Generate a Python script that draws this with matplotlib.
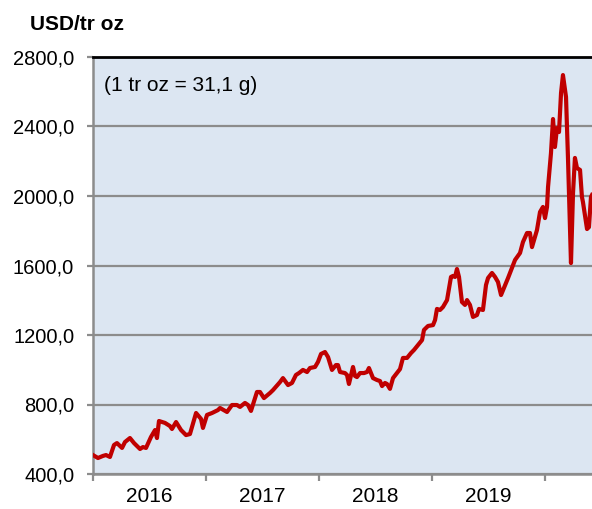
import numpy as np
import matplotlib.pyplot as plt
from matplotlib.ticker import FixedLocator, FuncFormatter

plt.rcParams['font.family'] = ['Liberation Sans', 'DejaVu Sans']

# decimal year / price (USD per troy ounce)
years = [2016.000, 2016.044, 2016.088, 2016.115, 2016.150, 2016.186, 2016.212, 2016.257,
         2016.283, 2016.327, 2016.363, 2016.416, 2016.442, 2016.469, 2016.513, 2016.549,
         2016.566, 2016.584, 2016.637, 2016.681, 2016.699, 2016.735, 2016.779, 2016.823,
         2016.858, 2016.912, 2016.956, 2016.973, 2017.009, 2017.053, 2017.106, 2017.124,
         2017.186, 2017.230, 2017.274, 2017.301, 2017.345, 2017.372, 2017.398, 2017.451,
         2017.478, 2017.513, 2017.566, 2017.593, 2017.655, 2017.681, 2017.726, 2017.761,
         2017.796, 2017.823, 2017.858, 2017.894, 2017.920, 2017.965, 2017.991, 2018.018,
         2018.053, 2018.080, 2018.115, 2018.150, 2018.168, 2018.186, 2018.230, 2018.248,
         2018.265, 2018.301, 2018.319, 2018.336, 2018.363, 2018.398, 2018.425, 2018.442,
         2018.478, 2018.513, 2018.540, 2018.558, 2018.584, 2018.602, 2018.628, 2018.655,
         2018.690, 2018.717, 2018.743, 2018.779, 2018.814, 2018.841, 2018.876, 2018.912,
         2018.929, 2018.965, 2019.009, 2019.027, 2019.044, 2019.071, 2019.097, 2019.133,
         2019.168, 2019.186, 2019.204, 2019.221, 2019.239, 2019.265, 2019.292, 2019.310,
         2019.336, 2019.363, 2019.398, 2019.416, 2019.451, 2019.478, 2019.496, 2019.531,
         2019.558, 2019.584, 2019.611, 2019.673, 2019.735, 2019.779, 2019.805, 2019.841,
         2019.867, 2019.885, 2019.929, 2019.956, 2019.982, 2020.000, 2020.018, 2020.027,
         2020.053, 2020.071, 2020.088, 2020.106, 2020.124, 2020.142, 2020.159, 2020.186,
         2020.204, 2020.230, 2020.248, 2020.265, 2020.283, 2020.310, 2020.327, 2020.336,
         2020.372, 2020.389, 2020.407, 2020.416]
price = [509, 492, 504, 509, 498, 567, 578, 550,
         584, 607, 578, 544, 555, 550, 613, 653,
         607, 705, 694, 676, 659, 699, 653, 624,
         630, 751, 717, 665, 740, 751, 768, 780,
         757, 797, 797, 786, 809, 797, 763, 872,
         872, 837, 866, 883, 929, 952, 912, 924,
         970, 981, 999, 987, 1010, 1016, 1045, 1091,
         1102, 1073, 999, 1027, 1027, 987, 981, 970,
         918, 1016, 964, 958, 981, 981, 987, 1010,
         952, 941, 935, 906, 924, 918, 890, 952,
         981, 1004, 1068, 1068, 1096, 1114, 1142, 1171,
         1229, 1252, 1257, 1286, 1350, 1344, 1361, 1401,
         1534, 1540, 1534, 1580, 1534, 1390, 1373, 1401,
         1373, 1304, 1315, 1350, 1344, 1488, 1528, 1557,
         1534, 1505, 1430, 1528, 1632, 1672, 1735, 1787,
         1787, 1706, 1804, 1908, 1937, 1873, 1937, 2052,
         2247, 2443, 2282, 2391, 2368, 2593, 2696, 2570,
         2207, 1614, 2017, 2219, 2161, 2150, 1994, 1965,
         1810, 1821, 1994, 2006]

year_labels = ['2016', '2017', '2018', '2019']
y_ticks = [400, 800, 1200, 1600, 2000, 2400, 2800]

fig = plt.figure(figsize=(5.92, 5.09), dpi=100)
ax = fig.add_axes([93/592, 1 - 474/509, 1 - 93/592, 417/509])
ax.set_facecolor('#DCE6F2')

ax.plot(years, price, color='#C00000', lw=3, solid_joinstyle='round', zorder=3)

ax.set_xlim(2016, 2020.416)
ax.set_ylim(400, 2800)
ax.set_yticks(y_ticks)
ax.yaxis.set_major_formatter(FuncFormatter(lambda v, p: f'{v:.1f}'.replace('.', ',')))
ax.grid(axis='y', color='#8C8C8C', lw=1.6, zorder=1)

ax.xaxis.set_major_locator(FixedLocator([2016, 2017, 2018, 2019, 2020]))
ax.xaxis.set_minor_locator(FixedLocator([2016.5, 2017.5, 2018.5, 2019.5]))
ax.set_xticklabels([])
ax.set_xticklabels(year_labels, minor=True)
ax.tick_params(axis='x', which='major', length=5, width=1.6, color='#8C8C8C')
ax.tick_params(axis='x', which='minor', length=0, pad=9, labelsize=15)
ax.tick_params(axis='y', length=4.5, width=1.6, color='#8C8C8C', pad=9, labelsize=14.5)

for s in ['left', 'bottom']:
    ax.spines[s].set_color('#8C8C8C')
    ax.spines[s].set_linewidth(1.8)
ax.spines['top'].set_color('black')
ax.spines['top'].set_linewidth(2)
ax.spines['right'].set_visible(False)

ax.text(0.022, 0.955, '(1 tr oz = 31,1 g)', transform=ax.transAxes,
        fontsize=15, va='top', ha='left')
fig.text(30/592, 1 - 24/509, 'USD/tr oz', fontsize=15, fontweight='bold',
         va='center', ha='left')

fig.savefig('out.png', dpi=100)
